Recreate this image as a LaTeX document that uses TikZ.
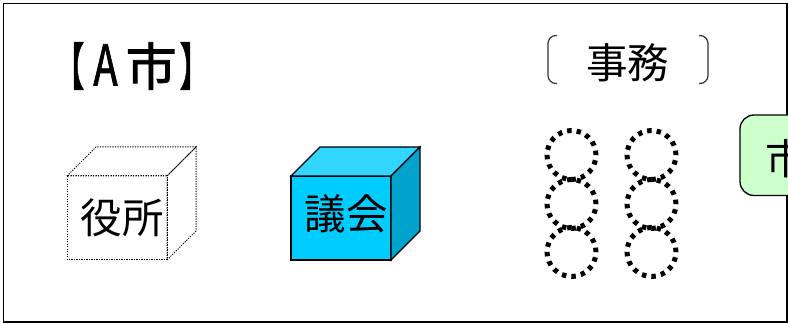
\documentclass[tikz,border=0pt]{standalone}
\usepackage{fontspec}
\setmainfont{Noto Sans CJK JP}
\newfontfamily\titlefont[FakeBold=1.6]{Noto Sans CJK JP}
\definecolor{councilfront}{HTML}{00CCFF}
\definecolor{counciltop}{HTML}{33D6FF}
\definecolor{councilside}{HTML}{00A3CC}
\definecolor{mayorgreen}{HTML}{CCFFCC}
\newcommand{\drawcube}[4]{%
    % front face, top face, side face
    \draw[#1,fill=#2] (0,0) rectangle (100,84);
    \draw[#1,fill=#3] (0,84) -- (29,113) -- (129,113) -- (100,84) -- cycle;
    \draw[#1,fill=#4] (100,0) -- (129,29) -- (129,113) -- (100,84) -- cycle;
}
\tikzset{
    frameline/.style={draw=black,line width=1.4pt},
    dotline/.style={draw=black,line width=1pt,dash pattern=on 1.2pt off 1.3pt},
    cubeline/.style={draw=black,line width=1.3pt},
    staffline/.style={draw=black,line width=5pt,dash pattern=on 4.4pt off 5.2pt},
    bracketline/.style={draw=black!80,line width=1.2pt,rounded corners=8pt},
    label/.style={inner sep=0pt,font=\fontsize{41.5}{42}\selectfont},
    title/.style={inner sep=0pt,font=\fontsize{51}{52}\titlefont},
}
\begin{document}
\begin{tikzpicture}[x=1pt,y=1pt]
\useasboundingbox (0,0) rectangle (788,324);
\clip (0,0) rectangle (788,324);
\draw[frameline] (3.5,2) rectangle (787,320.5);
% title and heading
\node[title] (city) at (132,258) {\scalebox{.6}[1]{【}\hspace{9pt}\scalebox{.78}[1.1]{A}\hspace{8pt}市\hspace{3pt}\scalebox{.6}[1]{】}};
\draw[bracketline] (557,288.5) -- (548,288.5) -- (548,240.5) -- (557,240.5);
\draw[bracketline] (699,288.5) -- (708,288.5) -- (708,240.5) -- (699,240.5);
\node[label] (work) at (627.5,261) {事務};
% the two cubes
\begin{scope}[shift={(67,64)}]
    \drawcube{dotline}{none}{none}{none}
\end{scope}
\begin{scope}[shift={(291,64)}]
    \drawcube{cubeline}{councilfront}{counciltop}{councilside}
\end{scope}
\node[label] (office) at (122,106) {役所};
\node[label] (council) at (346,110) {議会};
% staff circles
\foreach \x in {571.5,651.5} {%
    \foreach \y in {169,120,72} {%
        \draw[staffline] (\x,\y) circle (24.5);}
}
% cut-off box at the edge
\draw[draw=black,line width=1.3pt,fill=mayorgreen,rounded corners=14pt] (740,128.5) rectangle (830,209);
\node[label,anchor=west] (mayor) at (765,165) {市};
\end{tikzpicture}
\end{document}
